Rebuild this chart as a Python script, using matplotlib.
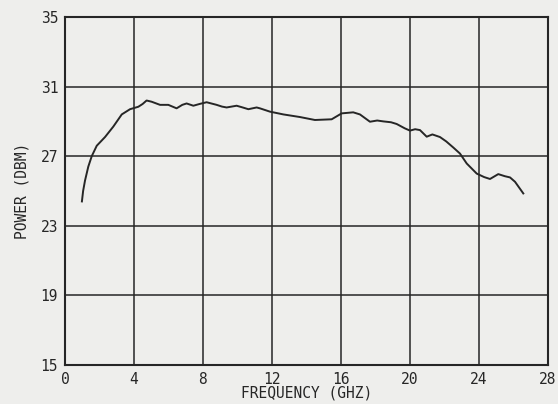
import matplotlib
matplotlib.use("Agg")
import matplotlib.pyplot as plt

# Output power vs frequency
freq_ghz = [0.98, 1.05, 1.16, 1.35, 1.55, 1.84, 2.32, 2.80, 3.29, 3.77,
            4.25, 4.50, 4.73, 5.02, 5.51, 5.99, 6.47, 6.80, 7.05, 7.44,
            7.80, 8.21, 8.79, 9.10, 9.37, 9.95, 10.30, 10.63, 11.11, 11.30,
            11.88, 12.66, 13.62, 14.49, 15.46, 16.04, 16.71, 17.10, 17.68, 18.10,
            18.45, 18.90, 19.23, 19.70, 20.00, 20.30, 20.58, 20.97, 21.30, 21.74,
            22.10, 22.51, 22.90, 23.29, 23.87, 24.30, 24.64, 25.12, 25.50, 25.80,
            26.09, 26.57]
power_dbm = [24.4, 25.0, 25.6, 26.4, 27.0, 27.6, 28.1, 28.7, 29.4, 29.7,
             29.84, 30.0, 30.2, 30.13, 29.95, 29.95, 29.75, 29.95, 30.03, 29.9,
             30.0, 30.1, 29.95, 29.85, 29.8, 29.9, 29.8, 29.7, 29.8, 29.75,
             29.56, 29.4, 29.25, 29.08, 29.12, 29.46, 29.52, 29.4, 28.98, 29.05,
             29.0, 28.95, 28.85, 28.6, 28.47, 28.55, 28.5, 28.12, 28.25, 28.1,
             27.85, 27.5, 27.15, 26.58, 26.0, 25.8, 25.69, 25.97, 25.85, 25.78,
             25.53, 24.86]

x_ticks = [0, 4, 8, 12, 16, 20, 24, 28]
x_labels = ["0", "4", "8", "12", "16", "20", "24", "28"]
y_ticks = [15, 19, 23, 27, 31, 35]

bg = "#eeeeec"
ink = "#262626"
plt.rcParams["font.family"] = ["DejaVu Sans Mono"]

fig = plt.figure(figsize=(5.58, 4.04), dpi=100, facecolor=bg)
ax = fig.add_axes([0.1165, 0.0965, 0.8655, 0.8615], facecolor=bg)

ax.plot(freq_ghz, power_dbm, color=ink, lw=1.4)

ax.set_xlim(0, 28)
ax.set_ylim(15, 35)
ax.set_xticks(x_ticks)
ax.set_xticklabels(x_labels)
ax.set_yticks(y_ticks)
ax.grid(True, color=ink, lw=1.1)
ax.tick_params(length=0, labelsize=10.5, colors=ink, pad=5)
for s in ax.spines.values():
    s.set_color(ink)
    s.set_linewidth(1.5)

ax.set_xlabel("FREQUENCY (GHZ)", fontsize=10.5, color=ink, labelpad=-1)
ax.set_ylabel("POWER (DBM)", fontsize=10.5, color=ink, labelpad=8)

fig.savefig("out.png", dpi=100, facecolor=bg)
